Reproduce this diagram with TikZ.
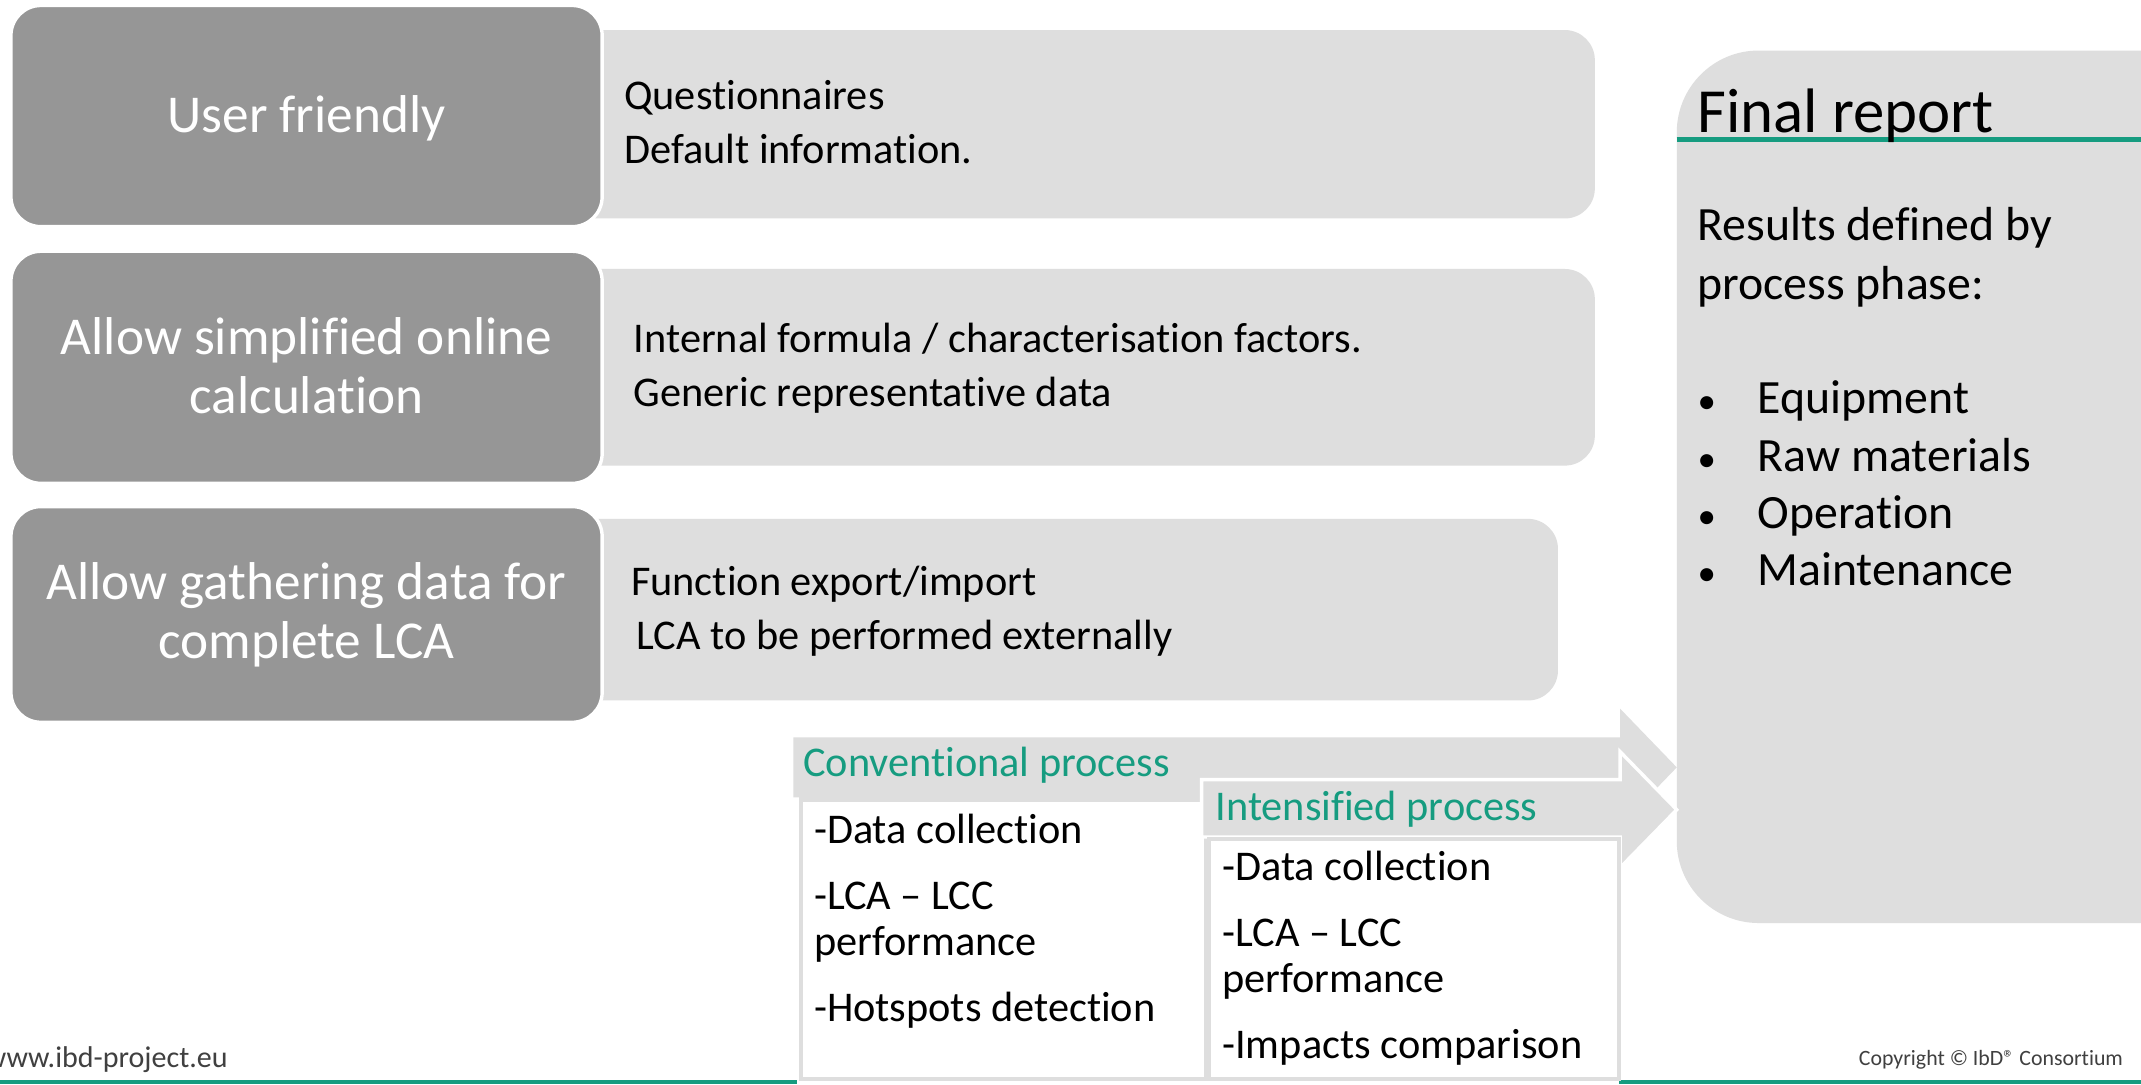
\documentclass[tikz,border=0pt]{standalone}
\usepackage{fontspec}
\setmainfont{Carlito}[Ligatures={NoCommon,NoContextual}]
\definecolor{boxdark}{RGB}{150,150,150}
\definecolor{boxlight}{RGB}{222,222,222}
\definecolor{teal}{RGB}{22,156,128}
\definecolor{footgray}{RGB}{64,64,64}
\begin{document}
\begin{tikzpicture}[x=1pt,y=-1pt,
  darkbox/.style={draw=white, line width=2.5pt, fill=boxdark, rounded corners=22pt, inner sep=0pt},
  lightbox/.style={fill=boxlight, rounded corners=22pt, inner sep=0pt},
  darktext/.style={text=white, align=center, font=\fontsize{39}{43}\selectfont, inner sep=0pt},
  itemtext/.style={anchor=base west, inner sep=0pt, font=\fontsize{31}{37}\selectfont},
  reporttext/.style={anchor=base west, inner sep=0pt, font=\fontsize{35}{42}\selectfont},
  bullettext/.style={anchor=base west, inner sep=0pt, font=\fontsize{27}{32}\selectfont},
  headtext/.style={anchor=base west, inner sep=0pt, text=teal, font=\fontsize{31}{37}\selectfont},
  procbox/.style={draw=boxlight, line width=3pt, fill=white},
  blockarrow/.style={fill=boxlight, draw=white, line width=2.5pt, line join=miter},
]
\useasboundingbox (0,0) rectangle (1568,794);
\clip (0,0) rectangle (1568,794);
\fill[white] (0,0) rectangle (1568,794);

% footer rule, interrupted by the process boxes
\draw[teal, line width=2.5pt] (0,792.5) -- (584,792.5);
\draw[teal, line width=2.5pt] (1186,792.5) -- (1568,792.5);

% light detail panels (left ends hidden under the dark boxes)
\node[lightbox, minimum width=868pt, minimum height=138pt] (l1) at (734,91) {};
\node[lightbox, minimum width=868pt, minimum height=144pt] (l2) at (734,269) {};
\node[lightbox, minimum width=841pt, minimum height=133pt] (l3) at (720.5,446.5) {};

% dark goal boxes
\node[darkbox, minimum width=433pt, minimum height=162pt] (d1) at (224.5,85) {};
\node[darkbox, minimum width=433pt, minimum height=170pt] (d2) at (224.5,269) {};
\node[darkbox, minimum width=433pt, minimum height=158pt] (d3) at (224.5,450) {};
\node[darktext] (d1t) at ([yshift=-2pt]d1.center) {User friendly};
\node[darktext] (d2t) at ([yshift=1pt]d2.center) {Allow simplified online\\calculation};
\node[darktext] (d3t) at (d3.center) {Allow gathering data for\\complete LCA};

% panel texts
\node[itemtext] (l1a) at (457,80) {Questionnaires};
\node[itemtext] (l1b) at (457,120) {Default information.};
\node[itemtext] (l2a) at (464,258) {Internal formula / characterisation factors.};
\node[itemtext] (l2b) at (464,298) {Generic representative data};
\node[itemtext] (l3a) at (462,436) {Function export/import};
\node[itemtext] (l3b) at (466,476) {LCA to be performed externally};

% final report panel
\node[lightbox, rounded corners=60pt, minimum width=472pt, minimum height=639pt] (rep) at (1464,356.5) {};
\draw[teal, line width=3.5pt] (rep.west |- 0,102) -- (1568,102);
\node[anchor=base west, inner sep=0pt, font=\fontsize{46}{55}\selectfont] (rept) at (1243,97) {Final report};
\node[reporttext] (r1) at (1243,176) {Results defined by};
\node[reporttext] (r2) at (1243,219) {process phase:};
\foreach \t [count=\i] in {Equipment,Raw materials,Operation,Maintenance}{
  \node[bullettext] (b\i) at (1243,261+42*\i) {•};
  \node[reporttext] (e\i) at (1287,261+42*\i) {\t};
}

% conventional process arrow and box
\path[blockarrow, draw=none] (581,540) -- (1186.5,540) -- (1186.5,519) -- (1228,562)
  -- (1186.5,605) -- (1186.5,584) -- (581,584) -- cycle;
\node[procbox, anchor=north west, minimum width=297pt, minimum height=205pt] (conv) at (585,584) {};
\node[headtext] (convt) at (588,569) {Conventional process};
\node[itemtext] (c1) at (596,618) {-Data collection};
\node[itemtext] (c2) at (596,666) {-LCA – LCC};
\node[itemtext] (c3) at (596,700) {performance};
\node[itemtext] (c4) at (596,748) {-Hotspots detection};

% intensified process arrow and box
\path[blockarrow] (880,571) -- (1186.5,571) -- (1186.5,550.5) -- (1228,593)
  -- (1186.5,635.5) -- (1186.5,613) -- (880,613) -- cycle;
\node[procbox, anchor=north west, minimum width=300pt, minimum height=176pt] (intens) at (884,613) {};
\node[headtext] (intt) at (890,601) {Intensified process};
\node[itemtext] (i1) at (895,645) {-Data collection};
\node[itemtext] (i2) at (895,693) {-LCA – LCC};
\node[itemtext] (i3) at (895,727) {performance};
\node[itemtext] (i4) at (895,775) {-Impacts comparison};

% footer
\node[anchor=base east, inner sep=0pt, text=footgray, font=\fontsize{22}{26}\selectfont] (web) at (167,782) {www.ibd-project.eu};
\node[anchor=base east, inner sep=0pt, text=footgray, font=\fontsize{16}{19}\selectfont] (copy) at (1555,780) {Copyright © IbD® Consortium};
\end{tikzpicture}
\end{document}
